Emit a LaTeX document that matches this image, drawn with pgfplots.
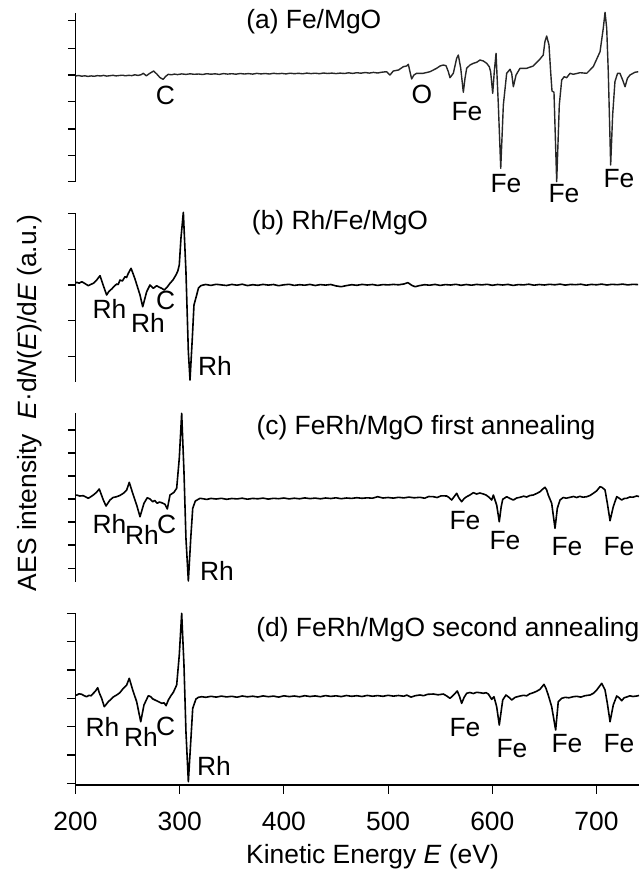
\documentclass[border=0pt]{standalone}
\usepackage{fontspec}
\setmainfont{Liberation Sans}
\usepackage{pgfplots}
\pgfplotsset{compat=1.18}
\pgfplotsset{
  panel/.style={
    scale only axis, width=281.75pt, xmin=200, xmax=740.8,
    anchor=north west, clip=false,
    axis y line*=left, axis line style={-, line width=0.55pt, black},
    tick align=outside, major tick length=3.8pt,
    tick style={line width=0.55pt, black},
    yticklabels={},
  },
  topp/.style={axis x line=none, xtick=\empty},
  curve/.style={black, line width=0.8pt, line join=round, mark=none},
}
\begin{document}
\begin{tikzpicture}[font=\fontsize{13.2}{15.8}\selectfont]
\useasboundingbox (0,0) rectangle (319.5pt,-436.5pt);

% (a)
\begin{axis}[panel, topp, at={(37.75pt,-6.5pt)}, height=84.35pt,
  ymin=-106.7, ymax=62, ytick={54.3,26.7,0,-26.7,-54,-80.7,-106.7}]
\addplot[curve, black!85, line width=0.7pt] coordinates {
(200,-1.0)(203,-0.5)(206,-1.2)(209,-0.8)(212,-1.4)(215,-0.9)(218,-1.3)(221,-0.6)(224,-1.0)(227,-0.4)(230,-1.1)(233,-0.7)(236,-0.3)(239,-0.9)(242,-0.5)(245,-0.2)(248,-0.8)(251,-0.3)(254,-0.6)(257,0.2)(260,-0.4)(263,0.3)(265,1.7)(268,-0.8)(271,1.5)(275,4.0)(278,1.0)(281,-2.5)(284,-4.3)(287,-1.0)(289,0.7)(292,0.2)(295,0.9)(298,0.4)(302,1.1)(306,0.6)(310,1.2)(314,0.7)(318,1.0)(322,0.5)(326,1.3)(330,0.8)(334,1.2)(338,0.6)(342,1.4)(346,0.9)(350,1.3)(354,0.8)(358,1.5)(362,1.0)(366,1.4)(370,0.9)(374,1.6)(378,1.1)(382,1.5)(386,1.0)(390,1.7)(394,1.2)(398,1.6)(402,1.1)(406,1.8)(410,1.3)(414,1.7)(418,1.2)(422,1.9)(426,1.4)(430,1.8)(434,1.3)(438,2.0)(442,1.5)(446,1.9)(450,1.4)(454,1.9)(458,1.5)(462,2.2)(466,1.6)(470,2.3)(474,1.8)(478,2.5)(482,1.9)(486,2.6)(490,2.0)(494,2.8)(498.6,3.3)(501.8,0.0)(505,4.0)(510,5.0)(514.6,8.3)(517.8,9.0)(519.4,10.7)(521,3.3)(522.6,-4.0)(524.8,0.0)(527.4,1.7)(533.8,1.7)(540.2,3.3)(546.6,6.7)(549.8,9.0)(553,10.0)(555.6,9.3)(557.8,3.3)(559.4,-2.7)(562.6,1.7)(565.8,16.7)(567.4,20.0)(569.7,6.7)(572.2,-17.3)(573.8,-3.3)(575.4,6.7)(578.6,10.0)(581.8,11.7)(585,12.7)(588.2,15.0)(591.4,14.0)(594.6,11.7)(597.1,8.3)(598.4,3.3)(600.4,-18.3)(601.9,3.3)(603.6,21.7)(605.8,-30.0)(608.1,-93.3)(610.6,-30.0)(613.8,1.7)(617,5.7)(618.6,1.7)(620.2,-11.7)(622.8,0.0)(626.6,6.7)(633,6.7)(639.3,9.0)(645.8,16.0)(648.9,20.0)(650.5,33.3)(652.2,39.0)(654.4,30.0)(656,3.3)(657.3,-16.0)(659.2,-17.3)(661.8,-106.7)(664.3,-30.0)(666.6,-5.0)(669,-1.7)(671.4,-2.7)(674.6,1.7)(677.7,0.7)(684.2,2.3)(690.6,1.7)(696.9,8.3)(703.4,23.3)(706.5,46.7)(708.2,62.7)(709.8,46.7)(711.3,3.3)(713.6,-90.0)(715.5,-40.0)(717.7,-6.7)(720.2,1.7)(722.5,1.7)(725.1,-5.0)(727.4,-11.7)(729.7,-3.3)(732.1,0.0)(736.9,2.7)(740.1,3.3)
};
\end{axis}

% (b)
\begin{axis}[panel, topp, at={(37.75pt,-106.65pt)}, height=84.2pt,
  ymin=-96.7, ymax=71.7, ytick={71.7,35.7,0,-35.7,-71.7}]
\addplot[curve] coordinates {
(200,2.0)(201.2,2.7)(203.5,1.8)(206,3.3)(209,1.5)(212.3,-0.7)(214.5,0.5)(217.1,1.7)(220,4.5)(223.5,9.3)(226.5,0.0)(229.9,-10.0)(232,-6.5)(234.7,-4.0)(237,-1.5)(239.5,1.0)(241,0.5)(242.7,5.0)(245,4.0)(247.5,8.3)(249,7.5)(250.7,11.7)(253.3,16.7)(255,12)(257.1,6.0)(261.9,-10.0)(264.5,-21.7)(268.3,-6.7)(271.5,0.0)(274.7,-3.3)(277.9,-0.7)(280,-2.0)(282.7,-3.3)(285.2,-5.0)(288,-2.0)(290.7,1.7)(293.5,5.0)(296.4,10.0)(298.2,14)(299.6,20.0)(301.2,46.7)(303.5,72.7)(306.0,13.3)(308.3,-66.7)(309.9,-95.0)(312.1,-53.3)(313.7,-20.0)(316.3,-10.0)(318,-3)(320.2,-0.7)(322.6,0.0)
(325,0.5)(330,-0.4)(335,0.7)(340,0.1)(345,-0.5)(350,0.6)(355,-0.2)(360,0.8)(365,-0.6)(370,0.3)(375,-0.3)(380,0.6)(385,-0.1)(390,0.5)(395,-0.7)(400,0.2)(405,0.7)(410,-0.4)(415,0.3)(420,-0.2)(425,0.6)(430,-0.5)(435,0.4)(440,-0.1)(445,0.5)(450,-0.9)(455,-1.7)(460,-0.6)(465,0.3)(470,-0.3)(475,0.6)(480,0.0)(485,0.5)(490,-0.4)(495,0.4)(500,0.1)(505,0.6)(510,0.2)(515,1.0)(519,2.3)(523,-0.5)(526,-1.7)(530,-0.6)(535,0.3)(540,-0.2)(545,0.6)(550,-0.4)(555,0.4)(560,0.0)(565,0.7)(570,-0.3)(575,0.5)(580,-0.2)(585,0.6)(590,0.1)(595,0.7)(600,-0.3)(605,0.5)(610,0.0)(615,0.6)(620,-0.4)(625,0.4)(630,0.1)(635,0.8)(640,-0.2)(645,0.5)(650,0.0)(655,0.7)(660,0.2)(665,0.9)(670,-0.1)(675,0.6)(680,0.3)(685,0.8)(690,-0.2)(695,0.6)(700,0.2)(705,0.9)(710,0.0)(715,0.7)(720,0.3)(725,0.9)(730,0.1)(735,0.7)(740,0.4)
};
\end{axis}

% (c)
\begin{axis}[panel, topp, at={(37.75pt,-206.65pt)}, height=84.2pt,
  ymin=-82.7, ymax=85.7, ytick={69,46,23,0,-23,-46,-69.3}]
\addplot[curve] coordinates {
(200,3.5)(201.2,4.0)(204,3.0)(207.5,3.3)(210,2.0)(212.3,0.7)(215,2.5)(217.1,4.0)(220,6.5)(222.8,10.0)(226.7,-1.0)(229.3,-7.0)(233.1,-1.0)(236,1.5)(239.5,2.3)(242.5,3.5)(245.9,5.7)(249.1,9.0)(251.6,16.7)(254.9,5.7)(258.7,-6.0)(261.9,-17.7)(265.7,-4.3)(268.9,1.3)(271.5,0.0)(274.1,-2.7)(276,-1.5)(278.5,-4.3)(280.5,-3.0)(282.7,-3.7)(285.9,-5.3)(288.1,-10.0)(290.7,4.0)(294.5,6.7)(297.1,10.7)(299.6,40.7)(301.9,85.7)(304.1,27.3)(306.0,-39.3)(308.3,-82.0)(310.6,-39.3)(312.5,-9.3)(315.0,-2.0)(319.5,0.7)
(322,0.3)(326,-0.4)(330,0.6)(335,0.0)(340,0.7)(345,-0.3)(350,0.5)(355,0.1)(360,0.8)(365,-0.2)(370,0.6)(375,0.2)(380,0.9)(385,-0.1)(390,0.7)(395,0.3)(400,1.0)(405,0.1)(410,0.8)(415,0.2)(420,1.1)(425,0.4)(430,0.9)(435,0.2)(440,1.0)(445,0.5)(450,1.2)(455,0.3)(460,1.0)(465,0.6)(470,1.3)(475,0.7)(480,1.2)(485,0.8)(490,2.3)(495,1.0)(500,1.5)(505,0.9)(510,1.7)(515,1.1)(520,1.9)(525,1.2)
(530.6,1.7)(535,0.8)(539,2.5)(543.4,2.3)(547,1.5)(551,3.2)(556.2,3.0)(558.5,1.5)(561.0,-1.0)(563.5,2.5)(565.8,5.7)(568,1.0)(570.6,-2.7)(573,0.5)(575.4,2.3)(578.5,4.0)(581.8,6.3)(585,5.0)(588,6.0)(591.4,5.0)(594,4.0)(596.2,2.3)(599.4,-1.0)(601.0,4.0)(604.2,-6.0)(606.7,-22.7)(608.5,-8)(610.0,-0.3)(613.8,2.3)(617,0.5)(620.2,-1.0)(623.4,1.0)(626.6,1.7)(630,2.8)(633,2.0)(636,3.5)(639.3,4.0)(642.5,5.5)(645.8,7.3)(648.5,10.0)(650.6,11.7)(652.2,9.0)(653.7,4.0)(657.0,-4.3)(660.2,-29.3)(662.4,-9.3)(665.0,-1.0)(668,1.5)(671,0.8)(674.6,1.7)(678,2.5)(681,1.5)(684,2.7)(687,1.8)(690.6,2.3)(693.8,3.5)(696.9,5.7)(700,8.0)(703.4,12.3)(705.5,11.5)(708.2,9.0)(710.4,-4.3)(713.0,-21.7)(716.1,-7.7)(719.4,2.3)(721.5,1.0)(724.2,-1.0)(726.5,0.5)(729.0,0.7)(732,2.0)(735,1.8)(738.6,3.0)(740.8,2.5)
};
\end{axis}

% (d)
\begin{axis}[panel, at={(37.75pt,-306.65pt)}, height=85.85pt,
  axis x line*=bottom, major tick length=4.3pt,
  ymin=-86.7, ymax=85, ytick={85,56.7,28.3,0,-28.3,-56.7,-85},
  xtick={200,300,400,500,600,700},
  /pgf/number format/assume math mode=true,
  xticklabel style={font=\fontsize{13.2}{15.8}\selectfont, yshift=-5.5pt}]
\addplot[curve] coordinates {
(200,3.0)(201.2,3.3)(203.5,4.5)(206,4.0)(208.5,2.5)(210.7,1.6)(213,3.0)(215,2.5)(217.1,5.0)(219,7.0)(221.3,10.6)(223,5.0)(225.1,0.0)(227.6,-8.4)(229.5,-6.0)(231.5,-3.4)(234,-1.0)(236.5,1.5)(239.5,3.3)(242.5,5.5)(245.9,10.0)(249.1,13.3)(251.6,20.0)(254.9,8.3)(258.7,-3.4)(262.6,-23.4)(265.7,-6.7)(269.9,2.6)(272.2,1.6)(274,-0.5)(276.3,-1.7)(279,-3.0)(282.7,-5.0)(285,-4.5)(286.9,-7.4)(289.1,-1.7)(291.5,2.5)(293.9,6.0)(297.1,13.3)(299.6,43.3)(301.9,85.0)(304.1,33.3)(306.0,-33.4)(308.3,-83.4)(310.6,-43.4)(312.5,-10.0)(315.6,-0.7)(318,1.0)(321.1,1.6)
(325,1.0)(330,2.0)(335,1.2)(340,2.2)(345,1.4)(350,2.0)(355,1.1)(360,2.3)(365,1.5)(370,2.1)(375,1.3)(380,2.4)(385,1.6)(390,2.2)(395,1.2)(400,2.5)(405,1.7)(410,2.3)(415,1.5)(420,2.6)(425,1.8)(430,2.4)(435,1.6)(440,2.7)(445,1.9)(450,2.5)(455,1.7)(460,2.8)(465,2.0)(470,2.6)(475,1.8)(480,2.9)(485,2.1)(490,2.7)(495,2.0)(500,3.0)(505,2.2)(510,2.8)(515,2.1)(518,3.2)(522,1.2)(526,2.6)
(530.6,3.3)(534,2.6)(538,4.0)(543.4,4.3)(548,3.5)(553,4.3)(556,2.5)(559.4,0.0)(562.5,3.0)(566.4,7.3)(568.5,2.0)(570.6,-5.0)(573,1.0)(575.4,5.0)(578.5,5.8)(581.8,4.8)(585,6.0)(588.2,5.6)(591.5,5.0)(594,5.6)(596.2,4.3)(599.4,-1.0)(601.6,1.6)(604.2,-8.4)(606.7,-26.7)(610.0,-1.7)(613.1,3.3)(616,1.0)(618.6,-1.7)(622,1.0)(626.6,2.3)(630,3.0)(633,2.5)(636,4.5)(639.3,5.6)(642.5,7.0)(645.8,9.0)(649.6,14.0)(651.5,10.0)(653.7,3.3)(657.0,-8.4)(660.8,-31.7)(663.3,-3.4)(666.6,0.0)(670,1.0)(673.5,0.5)(677.7,1.6)(681,2.0)(685,1.2)(689,2.6)(693.8,3.3)(697,5.0)(700.2,8.3)(702.5,11.5)(705.0,15.0)(708.2,8.3)(710.4,-5.0)(713.0,-23.4)(716.1,-6.7)(719.4,2.3)(721.8,0.5)(724.2,-2.4)(726.5,0.5)(729.0,1.3)(732,2.5)(735,1.8)(738.6,2.3)(740.8,2.8)
};
\end{axis}

\begin{scope}[x=0.5pt, y=-0.5pt]
% (a)
\node at (313.8,21.5) {(a) Fe/MgO};
\node at (165.5,95) {C};
\node at (422,94) {O};
\node at (467,111.5) {Fe};
\node at (506,184) {Fe};
\node at (564,194) {Fe};
\node at (619,179) {Fe};
% (b)
\node at (340,223) {(b) Rh/Fe/MgO};
\node at (109.5,309) {Rh};
\node at (148,323) {Rh};
\node at (165.7,300) {C};
\node at (215,366) {Rh};
% (c)
\node at (426,428) {(c) FeRh/MgO first annealing};
\node at (109.5,524) {Rh};
\node at (142,535) {Rh};
\node at (166.7,524) {C};
\node at (217,571) {Rh};
\node at (465,521) {Fe};
\node at (505,541) {Fe};
\node at (567,547) {Fe};
\node at (619,547) {Fe};
% (d)
\node[anchor=west, inner sep=0pt] at (256,630) {(d) FeRh/MgO second annealing};
\node at (102.5,727) {Rh};
\node at (141,737) {Rh};
\node at (165.7,726) {C};
\node at (214,766) {Rh};
\node at (465,728) {Fe};
\node at (512,749) {Fe};
\node at (567,744) {Fe};
\node at (619,744) {Fe};
% axis labels
\node at (372.5,857) {Kinetic Energy \textit{E} (eV)};
\node[rotate=90] at (30,403) {AES intensity\hspace{0.55em}\textit{E}·d\textit{N}(\textit{E})/d\textit{E} (a.u.)};
\end{scope}
\end{tikzpicture}
\end{document}
